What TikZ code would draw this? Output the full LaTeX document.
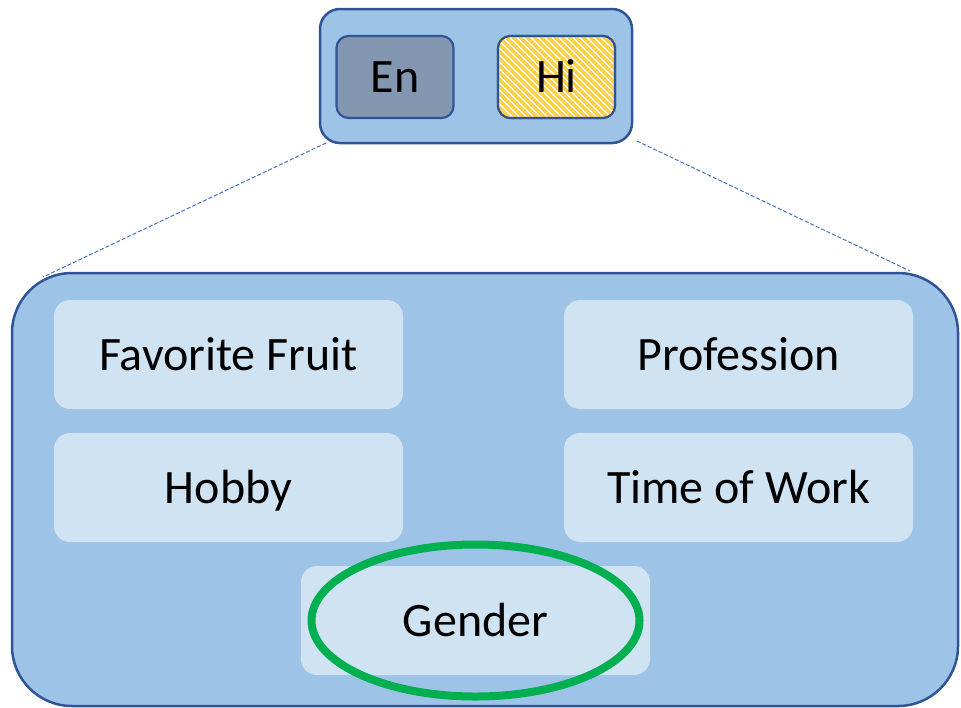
\documentclass[tikz,border=0pt]{standalone}
\usepackage{fontspec}
\setmainfont{Carlito}
\usetikzlibrary{calc}
\definecolor{boxblue}{RGB}{157,195,230}
\definecolor{edgeblue}{RGB}{47,85,151}
\definecolor{enfill}{RGB}{132,151,176}
\definecolor{lightbox}{RGB}{208,227,243}
\definecolor{dashblue}{RGB}{68,114,196}
\definecolor{stripe}{RGB}{255,208,75}
\definecolor{ringgreen}{RGB}{0,176,80}
\begin{document}
\begin{tikzpicture}[x=0.5pt,y=-0.5pt,
  txt/.style={font=\fontsize{24}{29}\selectfont,text height=15.5pt,text depth=0pt},
  outerbox/.style={draw=edgeblue,fill=boxblue,line width=1.25pt,inner sep=0pt},
  langbox/.style={txt,draw=edgeblue,line width=1.1pt,rounded corners=6pt,minimum width=58.5pt,minimum height=41pt,inner sep=0pt},
  attrbox/.style={txt,fill=lightbox,rounded corners=8pt,minimum width=174.5pt,minimum height=54.5pt,inner sep=0pt},
  linkline/.style={draw=dashblue,dashed,dash pattern=on 2pt off 1pt,line width=0.5pt}
]
\useasboundingbox (0,0) rectangle (961,707);
% big box
\node[outerbox,rounded corners=30pt,minimum width=473pt,minimum height=216.5pt] (big) at (485,489.5) {};
% top box
\node[outerbox,rounded corners=10pt,minimum width=156pt,minimum height=67pt] (top) at (476,76) {};
% dashed links
\coordinate (t1) at (326,143);
\coordinate (t2) at (637,141);
\coordinate (b1) at (43,277);
\coordinate (b2) at (910,271);
\draw[linkline] (t1) -- (b1);
\draw[linkline] (t2) -- (b2);
% En / Hi
\node[langbox,fill=enfill] (en) at (395,77) {En};
\node[langbox,fill=white] (hi) at (556.5,77) {};
\begin{scope}
  \clip[rounded corners=6pt] (hi.north west) rectangle (hi.south east);
  \foreach \i in {-84,-77,...,120} {
    \draw[stripe,line width=1.7pt] (498+\i,36) -- ++(84,84);
  }
\end{scope}
\node[langbox,fill=none] (hitext) at (556.5,77) {Hi};
% attribute boxes
\node[attrbox] (fruit) at (228.5,354.5) {Favorite Fruit};
\node[attrbox] (prof) at (738.5,354.5) {Profession};
\node[attrbox] (hobby) at (228.5,487.5) {Hobby};
\node[attrbox] (time) at (738.5,487.5) {Time of Work};
\node[attrbox] (gender) at (475.5,620.5) {Gender};
% green ellipse
\draw[ringgreen,line width=4pt] (gender.center) ellipse [x radius=164,y radius=76];
\end{tikzpicture}
\end{document}
